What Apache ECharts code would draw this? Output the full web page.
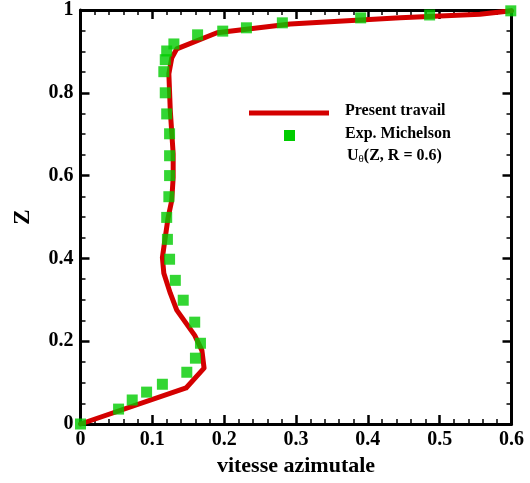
<!DOCTYPE html>
<html>
<head>
<meta charset="utf-8">
<script src="https://cdn.jsdelivr.net/npm/echarts@6/dist/echarts.min.js"></script>
<style>html,body{margin:0;padding:0;background:#fff}#c{width:530px;height:483px}</style>
</head>
<body>
<div id="c"></div>
<script>
// Present travail (line): [vitesse azimutale, Z]
const lineX = [0, 0.147, 0.172, 0.169, 0.159, 0.134, 0.125, 0.116, 0.114, 0.118, 0.122, 0.127, 0.129, 0.129, 0.125, 0.123, 0.127, 0.134, 0.190, 0.292, 0.445, 0.556, 0.600];
const lineY = [0, 0.087, 0.135, 0.178, 0.214, 0.275, 0.316, 0.364, 0.402, 0.451, 0.499, 0.540, 0.595, 0.653, 0.757, 0.846, 0.884, 0.906, 0.945, 0.966, 0.981, 0.990, 0.998];
// Exp. Michelson (squares)
const expX = [0, 0.053, 0.072, 0.092, 0.114, 0.148, 0.160, 0.167, 0.159, 0.143, 0.132, 0.124, 0.121, 0.120, 0.123, 0.124, 0.124, 0.124, 0.120, 0.118, 0.116, 0.118, 0.120, 0.130, 0.163, 0.198, 0.231, 0.281, 0.390, 0.486, 0.599];
const expY = [0, 0.036, 0.058, 0.077, 0.096, 0.125, 0.159, 0.195, 0.246, 0.299, 0.347, 0.398, 0.446, 0.499, 0.549, 0.600, 0.648, 0.701, 0.749, 0.800, 0.851, 0.880, 0.901, 0.918, 0.940, 0.949, 0.957, 0.969, 0.981, 0.988, 0.998];
const xTickLabels = ['0', '0.1', '0.2', '0.3', '0.4', '0.5', '0.6'];
const yTickLabels = ['0', '0.2', '0.4', '0.6', '0.8', '1'];

const font = 'Liberation Serif';
const lineData = lineX.map((x, i) => [x, lineY[i]]);
const expData = expX.map((x, i) => [x, expY[i]]);

const axisCommon = {
  axisLine: { show: true, onZero: false, lineStyle: { color: '#000', width: 3 } },
  axisTick: { show: true, inside: true, length: 9, lineStyle: { color: '#000', width: 2.5 } },
  minorTick: { show: true, length: 5, lineStyle: { color: '#000', width: 1.5 } },
  splitLine: { show: false }
};
function xLab(v) { const i = Math.round(v / 0.1); return xTickLabels[i] !== undefined ? xTickLabels[i] : ''; }
function yLab(v) { const i = Math.round(v / 0.2); return yTickLabels[i] !== undefined ? yTickLabels[i] : ''; }

const chart = echarts.init(document.getElementById('c'), null, { renderer: 'canvas' });
chart.setOption({
  animation: false,
  backgroundColor: '#fff',
  grid: { left: 80.5, right: 18.5, top: 9.5, bottom: 59, containLabel: false },
  xAxis: [
    Object.assign({}, axisCommon, {
      type: 'value', min: 0, max: 0.6, interval: 0.1, position: 'bottom',
      minorTick: Object.assign({}, axisCommon.minorTick, { splitNumber: 5 }),
      axisLabel: { formatter: xLab, color: '#000', fontFamily: font, fontWeight: 'bold', fontSize: 20, margin: 6 },
      name: 'vitesse azimutale', nameLocation: 'middle', nameGap: 30,
      nameTextStyle: { color: '#000', fontFamily: font, fontWeight: 'bold', fontSize: 22 }
    }),
    Object.assign({}, axisCommon, {
      type: 'value', min: 0, max: 0.6, interval: 0.1, position: 'top',
      minorTick: Object.assign({}, axisCommon.minorTick, { splitNumber: 5 }),
      axisLabel: { show: false }
    })
  ],
  yAxis: [
    Object.assign({}, axisCommon, {
      type: 'value', min: 0, max: 1, interval: 0.2, position: 'left',
      minorTick: Object.assign({}, axisCommon.minorTick, { splitNumber: 4 }),
      axisLabel: { formatter: yLab, color: '#000', fontFamily: font, fontWeight: 'bold', fontSize: 20, margin: 7 },
      name: 'Z', nameLocation: 'middle', nameGap: 46, nameRotate: 90,
      nameTextStyle: { color: '#000', fontFamily: font, fontWeight: 'bold', fontSize: 23 }
    }),
    Object.assign({}, axisCommon, {
      type: 'value', min: 0, max: 1, interval: 0.2, position: 'right',
      minorTick: Object.assign({}, axisCommon.minorTick, { splitNumber: 4 }),
      axisLabel: { show: false }
    })
  ],
  series: [
    {
      name: 'Present travail', type: 'line', data: lineData, xAxisIndex: 0, yAxisIndex: 0,
      showSymbol: false, smooth: false, clip: false,
      lineStyle: { color: '#d40000', width: 5, cap: 'round', join: 'round' }, z: 2
    },
    {
      name: 'Exp. Michelson', type: 'scatter', data: expData, xAxisIndex: 0, yAxisIndex: 0,
      symbol: 'rect', symbolSize: 11, clip: false,
      itemStyle: { color: '#00cc00' }, z: 3
    }
  ],
  graphic: [
    { type: 'line', shape: { x1: 249, y1: 113, x2: 329, y2: 113 }, style: { stroke: '#d40000', lineWidth: 5 } },
    { type: 'rect', shape: { x: 284, y: 130, width: 11, height: 11 }, style: { fill: '#00cc00' } },
    { type: 'text', left: 345, top: 103, style: { text: 'Present travail', font: 'bold 16px "Liberation Serif"', fill: '#000' } },
    { type: 'text', left: 345, top: 126, style: { text: 'Exp. Michelson', font: 'bold 16px "Liberation Serif"', fill: '#000' } },
    { type: 'text', left: 347, top: 148, style: {
      text: '{a|U}{s|θ}{a|(Z, R = 0.6)}',
      rich: {
        a: { fontFamily: font, fontWeight: 'bold', fontSize: 16, fill: '#000', color: '#000' },
        s: { fontFamily: font, fontSize: 11, fill: '#000', color: '#000', verticalAlign: 'bottom', padding: [6, 0, 0, 0] }
      }
    } }
  ]
});
</script>
</body>
</html>
